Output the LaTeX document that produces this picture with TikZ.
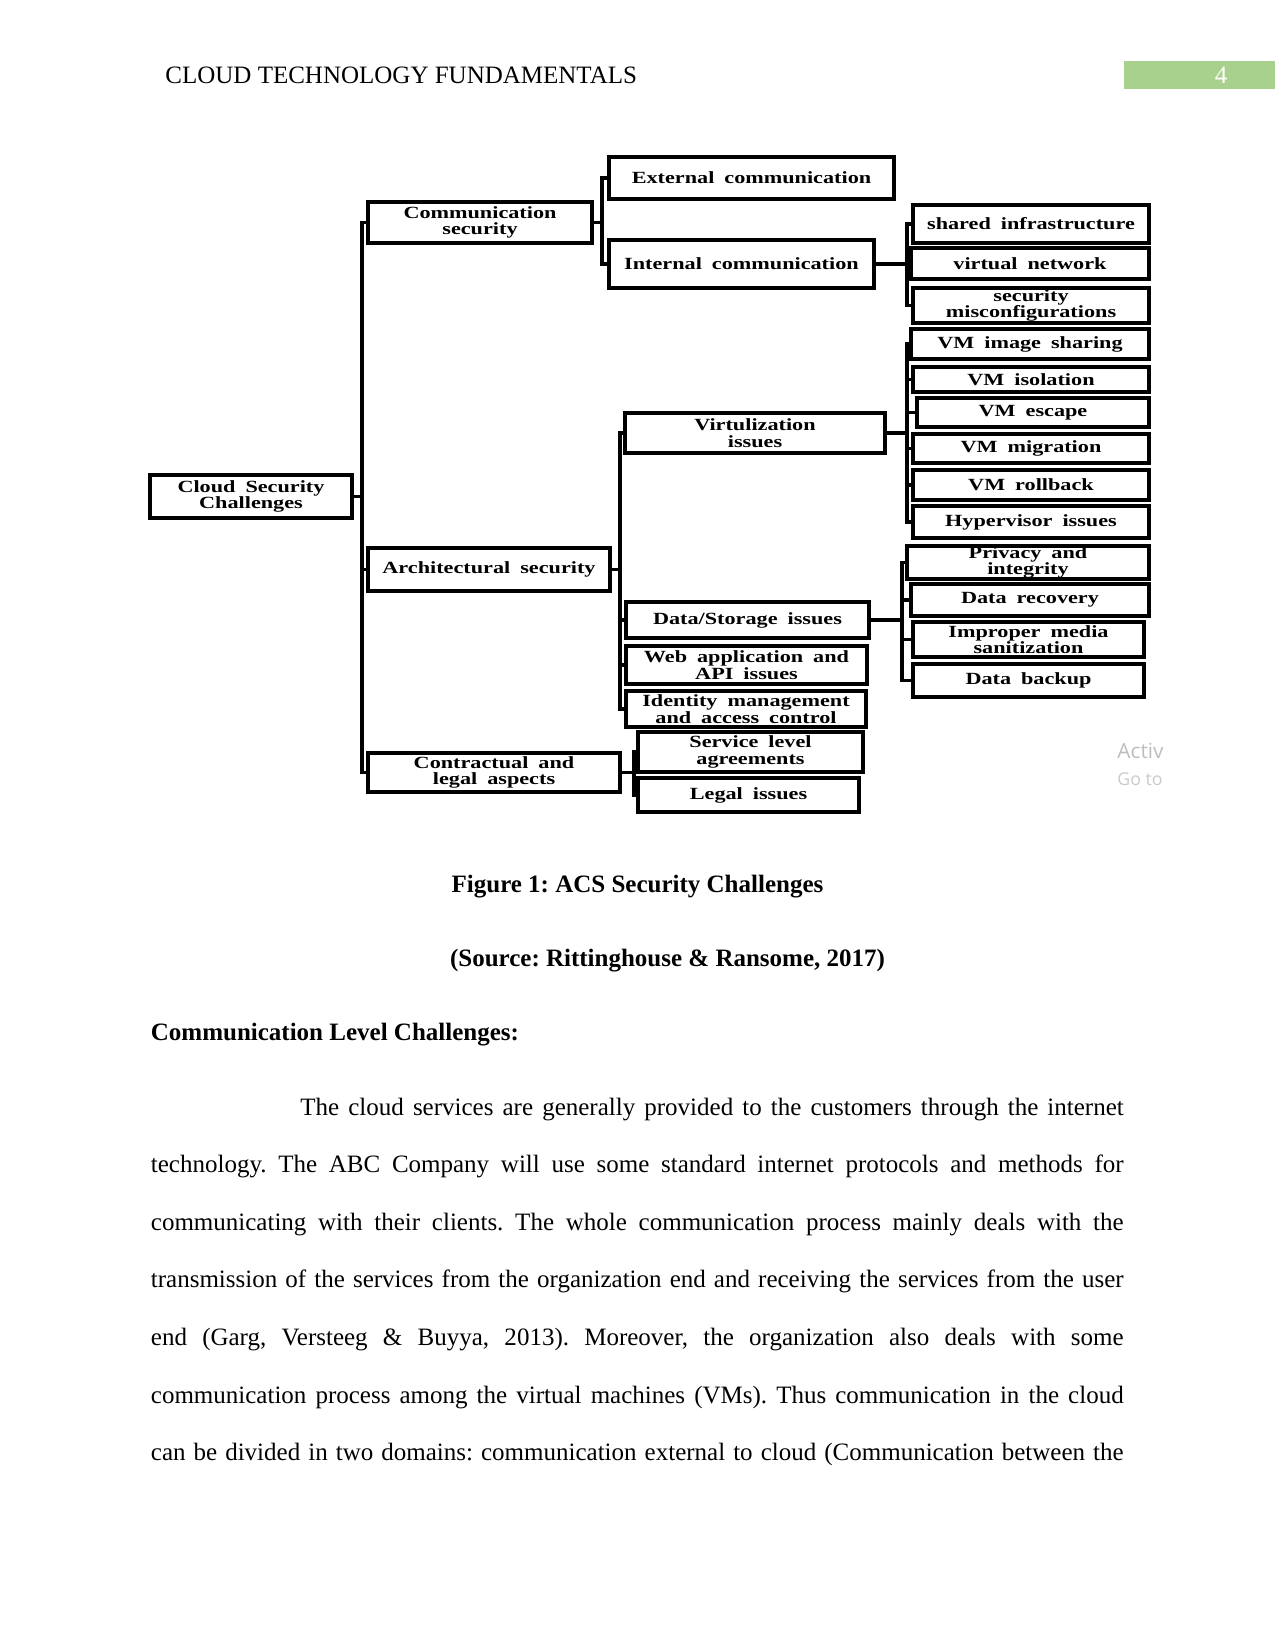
\documentclass[tikz,border=0pt]{standalone}
\usepackage{fontspec}
\setmainfont{Liberation Serif}
\newfontfamily\dgfont[FakeStretch=1.3,WordSpace=1.8]{Liberation Serif}
\newfontfamily\wmfont{Open Sans}
\definecolor{hdrgreen}{HTML}{A9D18E}
\definecolor{wmgray}{HTML}{BDBDBD}
\newcommand\bx[6]{%
  \pgfmathsetmacro\bxw{(#4-#2)*0.48}%
  \pgfmathsetmacro\bxh{(#5-#3)*0.48}%
  \pgfmathsetmacro\bxcx{(#2+#4)/2}%
  \pgfmathsetmacro\bxcy{(#3+#5)/2}%
  \node[box, minimum width=\bxw pt, minimum height=\bxh pt] (#1) at (\bxcx,\bxcy) {#6};}
\begin{document}
\frenchspacing
\begin{tikzpicture}[x=0.48pt,y=-0.48pt,
  box/.style={draw, line width=1.6pt, inner sep=0pt, align=center,
    font=\dgfont\bfseries\fontsize{8.2}{8}\selectfont},
  conn/.style={line width=1.8pt},
  body/.style={font=\fontsize{12}{14}\selectfont, inner sep=0pt},
  bodyb/.style={font=\bfseries\fontsize{12}{14}\selectfont, inner sep=0pt},
]
\useasboundingbox (0,0) rectangle (1275,1651);

% header
\node[body, anchor=base west] (hdr) at (165,84) {CLOUD TECHNOLOGY FUNDAMENTALS};
\fill[hdrgreen] (1124,61) rectangle (1275,89);
\node[body, anchor=base, text=white] (pg) at (1221,84) {4};

% diagram boxes
\bx{root}{150}{475}{352}{518}{Cloud Security\\Challenges}
\bx{comm}{368}{202}{592}{243}{Communication\\security}
\bx{arch}{368}{548}{610}{591}{Architectural security}
\bx{contr}{368}{753}{620}{792}{Contractual and\\legal aspects}
\bx{ext}{609}{157}{894}{199}{External communication}
\bx{int}{609}{240}{874}{288}{Internal communication}
\bx{shared}{913}{205}{1149}{243}{shared infrastructure}
\bx{vnet}{911}{248}{1149}{279}{virtual network}
\bx{misc}{913}{288}{1149}{323}{security\\misconfigurations}
\bx{vmis}{911}{329}{1149}{359}{VM image sharing}
\bx{vmiso}{913}{367}{1149}{392}{VM isolation}
\bx{vmesc}{917}{398}{1149}{427}{VM escape}
\bx{vmmig}{913}{434}{1149}{463}{VM migration}
\bx{vmroll}{913}{470}{1149}{500}{VM rollback}
\bx{hyp}{913}{506}{1149}{538}{Hypervisor issues}
\bx{virt}{625}{413}{885}{453}{Virtulization\\issues}
\bx{ds}{626}{602}{869}{638}{Data/Storage issues}
\bx{web}{626}{646}{867}{684}{Web application and\\API issues}
\bx{idm}{626}{691}{866}{727}{Identity management\\and access control}
\bx{sla}{638}{732}{863}{772}{Service level\\agreements}
\bx{legal}{638}{778}{859}{812}{Legal issues}
\bx{priv}{907}{546}{1149}{579}{Privacy and\\integrity}
\bx{drec}{911}{584}{1149}{616}{Data recovery}
\bx{imp}{913}{622}{1144}{657}{Improper media\\sanitization}
\bx{dbak}{913}{664}{1144}{697}{Data backup}

% connectors
\foreach \c in {comm,arch,contr} \draw[conn] (root.east) -- ++(8,0) |- (\c.west);
\foreach \c in {ext,int} \draw[conn] (comm.east) -- ++(8,0) |- (\c.west);
\foreach \c in {shared,vnet,misc} \draw[conn] (int.east) -- ++(31,0) |- (\c.west);
\foreach \c in {virt,ds,web,idm} \draw[conn] (arch.east) -- ++(8,0) |- (\c.west);
\foreach \c in {vmis,vmiso,vmesc,vmmig,vmroll,hyp} \draw[conn] (virt.east) -- ++(20,0) |- (\c.west);
\foreach \c in {priv,drec,imp,dbak} \draw[conn] (ds.east) -- ++(31,0) |- (\c.west);
\foreach \c in {sla,legal} \draw[conn] (contr.east) -- ++(12,0) |- (\c.west);

% watermark
\node[font=\wmfont\fontsize{10}{12}\selectfont, text=wmgray, anchor=base west, inner sep=0pt] (wm1) at (1117,758) {Activ};
\node[font=\wmfont\fontsize{8.5}{10}\selectfont, text=wmgray!80, anchor=base west, inner sep=0pt] (wm2) at (1117,785) {Go to};

% captions
\node[bodyb, anchor=base] (cap1) at (637.5,892) {Figure 1: ACS Security Challenges};
\node[bodyb, anchor=base] (cap2) at (667.5,966) {(Source: Rittinghouse \& Ransome, 2017)};
\node[bodyb, anchor=base west] (sec) at (150.5,1040) {Communication Level Challenges:};

% paragraph
\node[body, anchor=base west] (p1) at (300,1115) {\makebox[395.2pt][s]{The cloud services are generally provided to the customers through the internet}};
\node[body, anchor=base west] (p2) at (150.5,1172.6) {\makebox[466.9pt][s]{technology. The ABC Company will use some standard internet protocols and methods for}};
\node[body, anchor=base west] (p3) at (150.5,1230.2) {\makebox[466.9pt][s]{communicating with their clients. The whole communication process mainly deals with the}};
\node[body, anchor=base west] (p4) at (150.5,1287.8) {\makebox[466.9pt][s]{transmission of the services from the organization end and receiving the services from the user}};
\node[body, anchor=base west] (p5) at (150.5,1345.4) {\makebox[466.9pt][s]{end (Garg, Versteeg \& Buyya, 2013). Moreover, the organization also deals with some}};
\node[body, anchor=base west] (p6) at (150.5,1403) {\makebox[466.9pt][s]{communication process among the virtual machines (VMs). Thus communication in the cloud}};
\node[body, anchor=base west] (p7) at (150.5,1460.6) {\makebox[466.9pt][s]{can be divided in two domains: communication external to cloud (Communication between the}};
\end{tikzpicture}
\end{document}
